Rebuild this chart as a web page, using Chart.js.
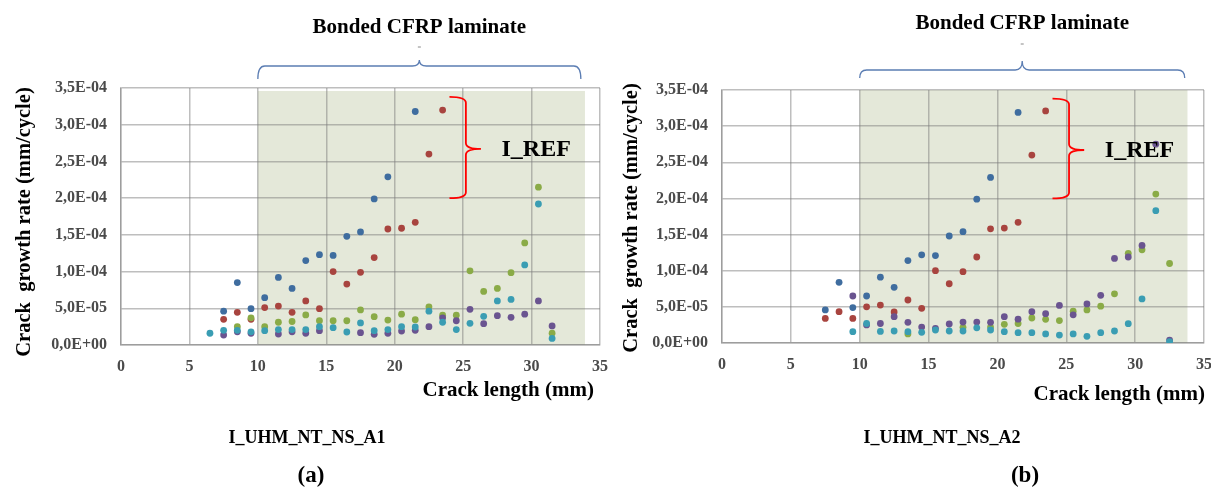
<!DOCTYPE html>
<html><head><meta charset="utf-8">
<script src="https://cdn.jsdelivr.net/npm/chart.js@4.4.1/dist/chart.umd.min.js"></script>
<style>
html,body{margin:0;padding:0;background:#fff;width:1211px;height:489px;overflow:hidden}
#wrap{position:relative;width:1211px;height:489px}
canvas{position:absolute;top:0}
#cA{left:0px} #cB{left:600px}
</style></head><body>
<div id="wrap"><canvas id="cA" width="620" height="489"></canvas><canvas id="cB" width="611" height="489"></canvas></div>
<script>
// ---------- data (a) I_UHM_NT_NS_A1 ----------
const crackLengthA1 = [6.5,7.5,8.5,9.5,10.5,11.5,12.5,13.5,14.5,15.5,16.5,17.5,18.5,19.5,20.5,21.5,22.5,23.5,24.5,25.5,26.5,27.5,28.5,29.5,30.5,31.5];
const blueA1   = [null,4.6e-5,8.5e-5,4.95e-5,6.45e-5,9.2e-5,7.7e-5,1.15e-4,1.23e-4,1.22e-4,1.48e-4,1.54e-4,1.99e-4,2.29e-4,null,3.18e-4,null,null,null,null,null,null,null,null,null,null];
const redA1    = [null,3.5e-5,4.45e-5,3.5e-5,5.1e-5,5.3e-5,4.45e-5,6.0e-5,4.95e-5,1.0e-4,8.3e-5,9.9e-5,1.19e-4,1.58e-4,1.59e-4,1.67e-4,2.6e-4,3.2e-4,null,null,null,null,null,null,null,null];
const greenA1  = [null,null,2.5e-5,3.7e-5,2.5e-5,3.1e-5,3.2e-5,4.1e-5,3.3e-5,3.3e-5,3.3e-5,4.77e-5,3.86e-5,3.4e-5,4.2e-5,3.45e-5,5.2e-5,4.05e-5,4.05e-5,1.01e-4,7.3e-5,7.7e-5,9.85e-5,1.39e-4,2.15e-4,1.6e-5];
const purpleA1 = [null,1.36e-5,1.8e-5,1.6e-5,null,1.5e-5,1.8e-5,1.6e-5,1.95e-5,null,null,1.68e-5,1.46e-5,1.6e-5,1.9e-5,2.0e-5,2.5e-5,3.7e-5,3.3e-5,4.86e-5,2.9e-5,4.0e-5,3.77e-5,4.2e-5,6.0e-5,2.6e-5];
const cyanA1   = [1.6e-5,2.0e-5,2.0e-5,1.8e-5,1.95e-5,2.1e-5,2.1e-5,2.1e-5,2.5e-5,2.36e-5,1.77e-5,3.0e-5,1.95e-5,2.1e-5,2.5e-5,2.45e-5,4.6e-5,3.1e-5,2.1e-5,2.95e-5,3.9e-5,6.0e-5,6.2e-5,1.09e-4,1.92e-4,9e-6];

// ---------- data (b) I_UHM_NT_NS_A2 ----------
const crackLengthA2 = [7.5,8.5,9.5,10.5,11.5,12.5,13.5,14.5,15.5,16.5,17.5,18.5,19.5,20.5,21.5,22.5,23.5,24.5,25.5,26.5,27.5,28.5,29.5,30.5,31.5,32.5];
const blueA2   = [4.57e-5,8.4e-5,4.9e-5,6.5e-5,9.1e-5,7.7e-5,1.14e-4,1.22e-4,1.21e-4,1.48e-4,1.54e-4,1.99e-4,2.29e-4,null,3.19e-4,null,null,null,null,null,null,null,null,null,null,null];
const redA2    = [3.4e-5,4.33e-5,3.4e-5,5.0e-5,5.25e-5,4.3e-5,5.95e-5,4.8e-5,1.0e-4,8.2e-5,9.87e-5,1.19e-4,1.58e-4,1.59e-4,1.67e-4,2.6e-4,3.21e-4,null,null,null,null,null,null,null,null,null];
const greenA2  = [null,null,null,null,null,null,1.25e-5,null,null,null,2.17e-5,null,2.2e-5,2.58e-5,2.7e-5,3.46e-5,3.28e-5,3.1e-5,4.4e-5,4.57e-5,5.1e-5,6.8e-5,1.24e-4,1.29e-4,2.06e-4,1.1e-4];
const purpleA2 = [null,null,6.5e-5,2.5e-5,2.7e-5,3.64e-5,2.86e-5,2.2e-5,2.03e-5,2.63e-5,2.9e-5,2.9e-5,2.86e-5,3.64e-5,3.3e-5,4.33e-5,4.06e-5,5.2e-5,3.9e-5,5.4e-5,6.6e-5,1.17e-4,1.19e-4,1.35e-4,2.75e-4,4e-6];
const cyanA2   = [null,null,1.57e-5,2.7e-5,1.6e-5,1.66e-5,1.57e-5,1.48e-5,1.8e-5,1.66e-5,1.66e-5,2.1e-5,1.8e-5,1.57e-5,1.43e-5,1.43e-5,1.25e-5,1.1e-5,1.25e-5,9.3e-6,1.43e-5,1.66e-5,2.67e-5,6.1e-5,1.83e-4,2e-6];

// ---------- axis ----------
const xTicks = [0,5,10,15,20,25,30,35];
const yMax = 3.5e-4, yStep = 5e-5;

const SERIF = '"Liberation Serif","Times New Roman",serif';
const COLORS = {blue:'#3f6d9f', red:'#a8443f', green:'#8aab47', purple:'#6a5490', cyan:'#3a9db3'};
const GRID = 'rgba(125,125,125,0.5)';
const SHADE = '#e4e8d9';

function sci(v){
  if (Math.abs(v) < 1e-12) return '0,0E+00';
  const s = Number(v).toExponential(1);
  const parts = s.split('e');
  const n = parseInt(parts[1],10);
  const a = Math.abs(n);
  return parts[0].replace('.',',') + 'E' + (n<0?'-':'+') + (a<10?'0':'') + a;
}

function pts(xs, ys){ return xs.map((x,i)=>({x:x, y:ys[i]})).filter(p=>p.y!==null); }

function hBrace(ctx, xL, xR, yEnd, yMid, xTip, yTip){
  const r = 7;
  ctx.beginPath();
  ctx.moveTo(xL, yEnd);
  ctx.quadraticCurveTo(xL, yMid, xL + r, yMid);
  ctx.lineTo(xTip - r, yMid);
  ctx.quadraticCurveTo(xTip, yMid, xTip, yTip);
  ctx.quadraticCurveTo(xTip, yMid, xTip + r, yMid);
  ctx.lineTo(xR - r, yMid);
  ctx.quadraticCurveTo(xR, yMid, xR, yEnd);
  ctx.stroke();
}
function vBrace(ctx, xL, xM, xTip, yTop, yMid, yBot){
  const r = 6;
  ctx.beginPath();
  ctx.moveTo(xL, yTop);
  ctx.quadraticCurveTo(xM, yTop, xM, yTop + r);
  ctx.lineTo(xM, yMid - r);
  ctx.quadraticCurveTo(xM, yMid, xTip, yMid);
  ctx.quadraticCurveTo(xM, yMid, xM, yMid + r);
  ctx.lineTo(xM, yBot - r);
  ctx.quadraticCurveTo(xM, yBot, xL, yBot);
  ctx.stroke();
}

function makeChart(id, xs, series, cfg){
  const plugin = {
    id: 'annot_' + id,
    beforeDraw(chart){
      const {ctx, scales:{x, y}} = chart;
      ctx.save();
      ctx.fillStyle = SHADE;
      const x0 = x.getPixelForValue(10), x1 = x.getPixelForValue(cfg.shadeTo);
      const y0 = y.getPixelForValue(cfg.shadeTop), y1 = y.getPixelForValue(0);
      ctx.fillRect(x0, y0, x1 - x0, y1 - y0);
      ctx.restore();
    },
    afterDraw(chart){
      const {ctx, scales:{x, y}} = chart;
      ctx.save();
      // Bonded CFRP laminate bracket
      ctx.strokeStyle = '#5b7db3';
      ctx.lineWidth = 1.3;
      const bL = x.getPixelForValue(10), bR = x.getPixelForValue(33.6);
      const bC = (bL + bR) / 2;
      hBrace(ctx, bL, bR, cfg.brEnd, cfg.brMid, bC, cfg.brTip);
      ctx.strokeStyle = '#888';
      ctx.lineWidth = 1;
      ctx.beginPath(); ctx.moveTo(bC - 1.5, cfg.dashY); ctx.lineTo(bC + 1.5, cfg.dashY); ctx.stroke();
      ctx.fillStyle = '#000';
      ctx.font = 'bold 21px ' + SERIF;
      ctx.textAlign = 'center'; ctx.textBaseline = 'middle';
      ctx.fillText('Bonded CFRP laminate', bC, cfg.bondY);
      // I_REF brace
      ctx.strokeStyle = '#ff0000';
      ctx.lineWidth = 1.8;
      vBrace(ctx, x.getPixelForValue(24.0), x.getPixelForValue(25.2), x.getPixelForValue(26.3),
             y.getPixelForValue(3.38e-4), y.getPixelForValue(2.67e-4), y.getPixelForValue(2.0e-4));
      ctx.fillStyle = '#000';
      ctx.font = 'bold 24px ' + SERIF;
      ctx.textAlign = 'left'; ctx.textBaseline = 'middle';
      ctx.fillText('I_REF', x.getPixelForValue(27.8), y.getPixelForValue(2.66e-4));
      // axis titles
      ctx.font = 'bold 20.5px ' + SERIF;
      ctx.textAlign = 'center';
      ctx.save();
      ctx.translate(cfg.yTitleX, cfg.yTitleY);
      ctx.rotate(-Math.PI/2);
      ctx.fillText('Crack  growth rate (mm/cycle)', 0, 0);
      ctx.restore();
      ctx.font = 'bold 21px ' + SERIF;
      ctx.textAlign = 'right';
      ctx.fillText('Crack length (mm)', cfg.xTitleRight, cfg.xTitleY);
      // captions
      ctx.textAlign = 'center';
      ctx.font = 'bold 18px ' + SERIF;
      ctx.fillText(cfg.caption, cfg.capX, 438);
      ctx.font = 'bold 23px ' + SERIF;
      ctx.fillText(cfg.letter, cfg.letX, 476);
      ctx.restore();
    }
  };
  const order = ['cyan','purple','green','red','blue'];
  const datasets = Object.keys(series).map(k => ({
    label: k,
    data: pts(xs, series[k]),
    backgroundColor: COLORS[k],
    borderColor: COLORS[k],
    borderWidth: 0,
    pointRadius: 3.4,
    pointHoverRadius: 3.4,
    order: order.indexOf(k)
  }));
  const tickFont = {family: SERIF, weight: 'bold', size: 16};
  return new Chart(document.getElementById(id), {
    type: 'scatter',
    data: {datasets},
    options: {
      responsive: false, animation: false, devicePixelRatio: 1,
      events: [],
      layout: {padding: {top: cfg.padTop, right: cfg.padRight, left: 0, bottom: 0}},
      plugins: {legend: {display: false}, tooltip: {enabled: false}},
      scales: {
        x: {
          type: 'linear', min: xTicks[0], max: xTicks[xTicks.length-1],
          afterBuildTicks(s){ s.ticks = xTicks.map(v => ({value: v})); },
          ticks: {padding: 12, color: '#4a4a4a', font: tickFont, maxRotation: 0},
          grid: {color: GRID, lineWidth: 1.5, drawTicks: false},
          border: {color: GRID, width: 1.5},
          afterFit(s){ s.height = cfg.xAxisH; s.paddingLeft = 0; s.paddingRight = 0; }
        },
        y: {
          type: 'linear', min: 0, max: yMax,
          ticks: {stepSize: yStep, padding: 14, color: '#4a4a4a', font: tickFont, callback: sci},
          grid: {color: GRID, lineWidth: 1.5, drawTicks: false},
          border: {color: GRID, width: 1.5},
          afterFit(s){ s.width = cfg.yAxisW; s.paddingTop = 0; s.paddingBottom = 0; }
        }
      }
    },
    plugins: [plugin]
  });
}

makeChart('cA', crackLengthA1,
  {blue: blueA1, red: redA1, green: greenA1, purple: purpleA1, cyan: cyanA1},
  {padTop: 88, padRight: 20, xAxisH: 144, yAxisW: 121, shadeTo: 33.9, shadeTop: 3.46e-4,
   brEnd: 79, brMid: 66, brTip: 60, dashY: 47, bondY: 28,
   yTitleX: 25, yTitleY: 222, xTitleRight: 594, xTitleY: 391,
   caption: 'I_UHM_NT_NS_A1', capX: 307, letter: '(a)', letX: 311});

makeChart('cB', crackLengthA2,
  {blue: blueA2, red: redA2, green: greenA2, purple: purpleA2, cyan: cyanA2},
  {padTop: 90, padRight: 7, xAxisH: 146, yAxisW: 122, shadeTo: 33.8, shadeTop: 3.5e-4,
   brEnd: 78, brMid: 70, brTip: 61, dashY: 44, bondY: 24,
   yTitleX: 32, yTitleY: 218, xTitleRight: 605, xTitleY: 395,
   caption: 'I_UHM_NT_NS_A2', capX: 342, letter: '(b)', letX: 425});
</script>
</body></html>
